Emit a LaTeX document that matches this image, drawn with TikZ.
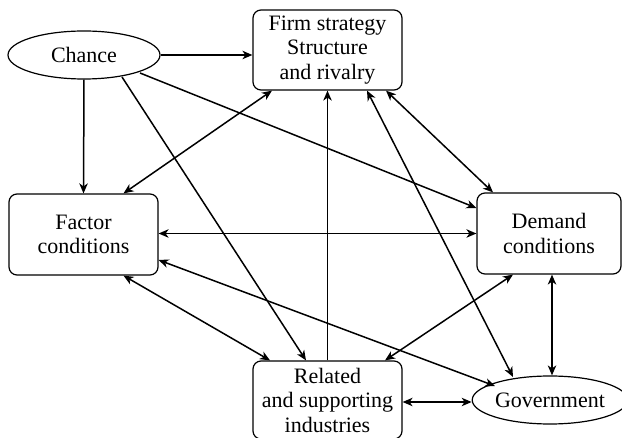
\documentclass[tikz,border=0pt]{standalone}
\usepackage{fontspec}
\newfontfamily\labelfont{LiberationSerif}[Extension=.ttf, UprightFont=*-Regular, BoldFont=*-Bold]
\usetikzlibrary{shapes.geometric,arrows.meta}
\begin{document}
\begin{tikzpicture}[x=1pt,y=-1pt,
  every node/.style={font=\labelfont\fontsize{22}{24.5}\selectfont, align=center, inner sep=0pt},
  boxnode/.style={draw, line width=1.2pt, rounded corners=8pt},
  ellnode/.style={draw, ellipse, line width=1.2pt},
  arr/.style={line width=1.5pt, -{Stealth[length=10pt,width=8.5pt,inset=3pt]}},
  darr/.style={line width=1.5pt, {Stealth[length=10pt,width=8.5pt,inset=3pt]}-{Stealth[length=10pt,width=8.5pt,inset=3pt]}}]
\useasboundingbox (0,0) rectangle (622,438);
\node[ellnode, minimum width=152pt, minimum height=48pt] (chance) at (84,55) {Chance};
\node[boxnode, minimum width=149pt, minimum height=80pt] (firm) at (327.5,50) {Firm strategy\\Structure\\and rivalry};
\node[boxnode, minimum width=149pt, minimum height=81pt] (factor) at (83.5,234.5) {Factor\\conditions};
\node[boxnode, minimum width=144pt, minimum height=81pt] (demand) at (549,233.5) {Demand\\conditions};
\node[boxnode, minimum width=149pt, minimum height=78pt] (rel) at (327.5,400) {Related\\and supporting\\industries};
\node[ellnode, minimum width=146pt, minimum height=48pt] (gov) at (550,400) {Government};

\draw[arr] (chance.east) -- (chance.east -| firm.west);
\draw[arr] (chance.south) -- (factor.north);
\draw[arr] ([shift={(38,22)}]chance.center) -- ([xshift=-21.5pt]rel.north);
\draw[arr] ([shift={(56,18)}]chance.center) -- ([shift={(0,-25.5)}]demand.west);
\draw[darr] ([xshift=40pt]factor.north) -- ([xshift=-55.5pt]firm.south);
\draw[darr] ([xshift=58.5pt]firm.south) -- ([xshift=-56pt]demand.north);
\draw[arr] (rel.north) -- (firm.south);
\draw[darr] ([xshift=39.5pt]firm.south) -- ([shift={(-37,-23)}]gov.center);
\draw[darr] ([yshift=1pt]factor.east) -- ([yshift=1pt]factor.east -| demand.west);
\draw[darr] ([shift={(0,25.5)}]factor.east) -- ([shift={(-55,-14)}]gov.center);
\draw[darr] ([xshift=40pt]factor.south) -- ([xshift=-57.5pt]rel.north);
\draw[darr] ([xshift=57.5pt]rel.north) -- ([xshift=-36pt]demand.south);
\draw[darr] ([yshift=-2pt]rel.east) -- ([yshift=-2pt]gov.west);
\draw[darr] ([xshift=3pt]demand.south) -- ([xshift=2pt]gov.north);
\end{tikzpicture}
\end{document}
